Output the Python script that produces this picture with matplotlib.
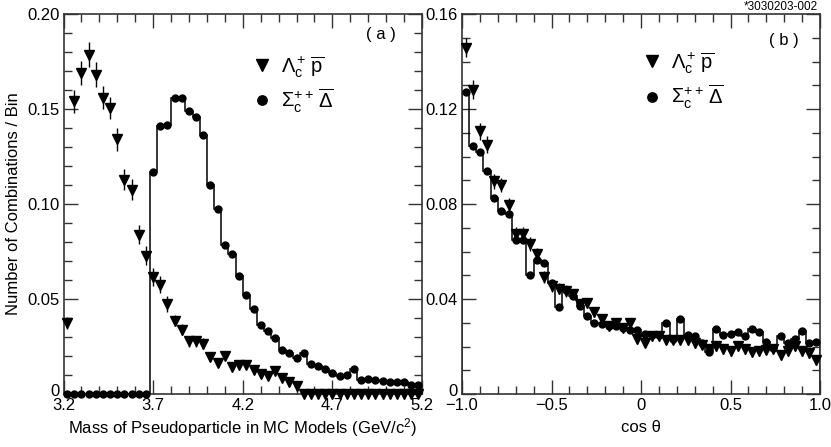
import numpy as np
import matplotlib
matplotlib.use("Agg")
import matplotlib.pyplot as plt
from matplotlib.ticker import MultipleLocator, FixedLocator, FixedFormatter
from matplotlib.transforms import ScaledTranslation

plt.rcParams['font.family'] = ['Liberation Sans', 'DejaVu Sans']
plt.rcParams['mathtext.fontset'] = 'custom'
plt.rcParams['mathtext.rm'] = 'Liberation Sans'
plt.rcParams['mathtext.it'] = 'Liberation Sans:italic'
plt.rcParams['mathtext.default'] = 'regular'

# ---------------- data: panel (a) ----------------
mass_range = (3.2, 5.2)
n_bins_a = 50
lam_a = [0.0374, 0.154, 0.169, 0.1786, 0.168, 0.156, 0.1505, 0.134, 0.1128, 0.1075,
         0.0838, 0.0728, 0.0616, 0.0575, 0.0474, 0.0386, 0.0338, 0.0277, 0.0277, 0.0265,
         0.0194, 0.0162, 0.0200, 0.0140, 0.0154, 0.0154, 0.0124, 0.0105, 0.0093, 0.0123,
         0.0083, 0.0062, 0.0040, 0, 0, 0, 0, 0, 0, 0,
         0, 0, 0, 0, 0, 0, 0, 0, 0, 0]
lam_a_err = [0.003, 0.006, 0.0065, 0.0065, 0.0065, 0.006, 0.006, 0.006, 0.0055, 0.0055,
             0.005, 0.005, 0.0045, 0.0045, 0.004, 0.003, 0.003, 0.003, 0.003, 0.003,
             0.002, 0.002, 0.002, 0.002, 0.002, 0.002, 0.002, 0.002, 0.002, 0.002,
             0.002, 0.002, 0.002, 0, 0, 0, 0, 0, 0, 0,
             0, 0, 0, 0, 0, 0, 0, 0, 0, 0]
sig_a = [0, 0, 0, 0, 0, 0, 0, 0, 0, 0,
         0, 0, 0.1168, 0.1408, 0.1417, 0.156, 0.156, 0.149, 0.1458, 0.1365,
         0.1098, 0.0975, 0.0782, 0.0737, 0.0619, 0.0523, 0.0447, 0.0365, 0.0333, 0.0293,
         0.0233, 0.0217, 0.0188, 0.0214, 0.0156, 0.0145, 0.0132, 0.0110, 0.0093, 0.0102,
         0.0133, 0.0075, 0.0081, 0.0074, 0.0069, 0.0062, 0.0062, 0.0062, 0.0046, 0.0045]

# ---------------- data: panel (b) ----------------
cos_range = (-1.0, 1.0)
n_bins_b = 50
lam_b = [0.1457, 0.1281, 0.1106, 0.1050, 0.0895, 0.0881, 0.0794, 0.0675, 0.0675, 0.0632,
         0.0590, 0.0492, 0.0455, 0.0444, 0.0434, 0.0422, 0.0380, 0.0383, 0.0345, 0.0316,
         0.0285, 0.0299, 0.0280, 0.0298, 0.0231, 0.0216, 0.0245, 0.0245, 0.0229, 0.0229,
         0.0229, 0.0226, 0.0215, 0.0208, 0.0191, 0.0201, 0.0189, 0.0179, 0.0201, 0.0189,
         0.0175, 0.0179, 0.0187, 0.0189, 0.0165, 0.0179, 0.0201, 0.0179, 0.0173, 0.0143]
lam_b_err = [0.004, 0.004, 0.0035, 0.0035, 0.003, 0.003, 0.003, 0.003, 0.003, 0.003,
             0.0025, 0.0025, 0.0025, 0.0025, 0.0025, 0.002, 0.002, 0.002, 0.002, 0.002,
             0.002, 0.002, 0.002, 0.002, 0.002, 0.002, 0.002, 0.002, 0.002, 0.002,
             0.002, 0.002, 0.002, 0.002, 0.002, 0.002, 0.002, 0.002, 0.002, 0.002,
             0.002, 0.002, 0.002, 0.002, 0.002, 0.002, 0.002, 0.002, 0.002, 0.002]
sig_b = [0.1271, 0.1043, 0.1017, 0.0940, 0.0825, 0.0772, 0.0758, 0.0647, 0.0647, 0.0502,
         0.0565, 0.0550, 0.0467, 0.0368, 0.0437, 0.0411, 0.0369, 0.0330, 0.0297, 0.0294,
         0.0285, 0.0286, 0.0278, 0.0270, 0.0268, 0.0252, 0.0250, 0.0250, 0.0299, 0.0232,
         0.0316, 0.0248, 0.0245, 0.0215, 0.0175, 0.0274, 0.0248, 0.0252, 0.0262, 0.0243,
         0.0274, 0.0262, 0.0220, 0.0192, 0.0245, 0.0215, 0.0232, 0.0264, 0.0215, 0.0217]

# ---------------- text ----------------
label_lam = 'Λ$_c^+\\,\\overline{p}$'
label_sig = 'Σ$_c^{++}\\,\\overline{Δ}$'
xlabel_a = 'Mass of Pseudoparticle in MC Models (GeV/c$^2$)'
xlabel_b = 'cos θ'
ylabel = 'Number of Combinations / Bin'
xticks_a = [3.2, 3.7, 4.2, 4.7, 5.2]
xticklabels_a = ['3.2', '3.7', '4.2', '4.7', '5.2']
yticks_a = [0, 0.05, 0.10, 0.15, 0.20]
yticklabels_a = ['0', '0.05', '0.10', '0.15', '0.20']
xticks_b = [-1.0, -0.5, 0.0, 0.5, 1.0]
xticklabels_b = ['\u22121.0', '\u22120.5', '0', '0.5', '1.0']
yticks_b = [0, 0.04, 0.08, 0.12, 0.16]
yticklabels_b = ['0', '0.04', '0.08', '0.12', '0.16']

fig = plt.figure(figsize=(8.31, 4.47), dpi=100)
axa = fig.add_axes([63.5 / 831, 53 / 447, 358.5 / 831, 380 / 447])
axb = fig.add_axes([462 / 831, 53 / 447, 358 / 831, 380 / 447])

FS = 12
col = 'black'


def style(ax, xr, yr, xt, xtl, yt, ytl, xminor, yminor):
    ax.set_xlim(*xr)
    ax.set_ylim(*yr)
    ax.xaxis.set_major_locator(FixedLocator(xt))
    ax.xaxis.set_major_formatter(FixedFormatter(xtl))
    ax.yaxis.set_major_locator(FixedLocator(yt))
    ax.yaxis.set_major_formatter(FixedFormatter(ytl))
    ax.xaxis.set_minor_locator(MultipleLocator(xminor))
    ax.yaxis.set_minor_locator(MultipleLocator(yminor))
    ax.tick_params(which='both', direction='in', top=True, right=True,
                   labelsize=FS, color='#333333', width=1.0)
    ax.tick_params(which='major', length=10, pad=3)
    ax.tick_params(which='minor', length=6)
    for s in ax.spines.values():
        s.set_linewidth(1.2)
        s.set_color('#333333')
    # raise the "0" label slightly, as in the original
    lbl = ax.yaxis.get_majorticklabels()[0]
    lbl.set_transform(lbl.get_transform() + ScaledTranslation(0, 4 / 100, fig.dpi_scale_trans))


def draw(ax, rng, nb, lam, lam_err, sig):
    edges = np.linspace(rng[0], rng[1], nb + 1)
    centers = 0.5 * (edges[:-1] + edges[1:])
    ax.stairs(sig, edges, baseline=0, color=col, lw=1.1, zorder=2)
    ax.errorbar(centers, lam, yerr=lam_err, fmt='none', ecolor=col,
                elinewidth=1.0, capsize=0, zorder=3, clip_on=False)
    ax.plot(centers, lam, 'v', color=col, ms=6.5, ls='none',
            label=label_lam, zorder=4, clip_on=False)
    ax.plot(centers, sig, 'o', color=col, ms=5, ls='none',
            label=label_sig, zorder=4, clip_on=False)


draw(axa, mass_range, n_bins_a, lam_a, lam_a_err, sig_a)
draw(axb, cos_range, n_bins_b, lam_b, lam_b_err, sig_b)

style(axa, mass_range, (0, 0.20), xticks_a, xticklabels_a, yticks_a, yticklabels_a, 0.1, 0.01)
style(axb, cos_range, (0, 0.16), xticks_b, xticklabels_b, yticks_b, yticklabels_b, 0.1, 0.01)

axa.set_xlabel(xlabel_a, fontsize=FS, labelpad=2)
axb.set_xlabel(xlabel_b, fontsize=FS, labelpad=5)
axa.set_ylabel(ylabel, fontsize=FS, labelpad=4)

for ax, pos in ((axa, (0.535, 0.895)), (axb, (0.51, 0.905))):
    ax.legend(loc='upper left', bbox_to_anchor=pos, frameon=False, fontsize=14.5,
              handlelength=0.7, handletextpad=0.6, borderpad=0, borderaxespad=0,
              labelspacing=0.35, markerscale=1.35)

axa.text(0.885, 0.945, '( a )', transform=axa.transAxes, fontsize=FS,
         ha='center', va='center')
axb.text(0.9, 0.93, '( b )', transform=axb.transAxes, fontsize=FS,
         ha='center', va='center')
fig.text(818 / 831, 1 - 1 / 447, '*3030203-002', fontsize=8.5, ha='right', va='top')

fig.savefig('out.png', dpi=100)
